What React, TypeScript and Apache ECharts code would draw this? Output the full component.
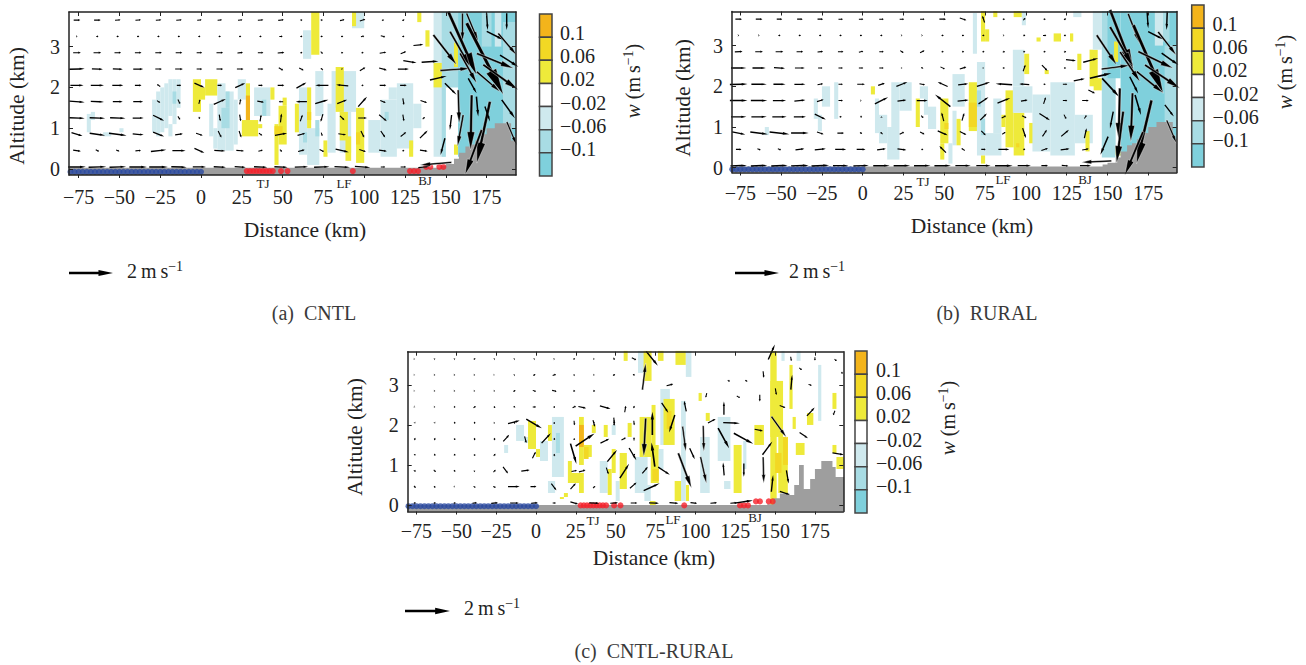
import React, { useEffect, useRef } from "react";
import * as echarts from "echarts";

const FONT = "Liberation Serif";
const INK = "#222222";
const MUTED = "#3a3a3a";

const distanceTicks = [-75, -50, -25, 0, 25, 50, 75, 100, 125, 150, 175];
const altitudeTicks = [0, 1, 2, 3];
const colorLabels = ["0.1", "0.06", "0.02", "\u22120.02", "\u22120.06", "\u22120.1"];
const colorSteps = ["#f3b41b", "#f2d824", "#eeea3a", "#ffffff", "#cfe9ee", "#a8dce4", "#7fd0dc"];
const levelColor: Record<string, string> = { "3": "#f3b41b", "2": "#f2d824", "1": "#eeea3a", "-1": "#cfe9ee", "-2": "#a8dce4", "-3": "#7fd0dc" };
const arrowHeights = [3.65, 3.25, 2.85, 2.45, 2.05, 1.65, 1.25, 0.85, 0.45, 0.05];
const arrowDistances = [-76, -63.5, -51, -38.5, -26, -13.5, -1, 11.5, 24, 36.5, 49, 61.5, 74, 86.5, 99, 111.5, 124, 136.5, 149, 161.5, 174, 186.5];
const blueStations = [-80, -77.5, -75, -72.5, -70, -67.5, -65, -62.5, -60, -57.5, -55, -52.5, -50, -47.5, -45, -42.5, -40, -37.5, -35, -32.5, -30, -27.5, -25, -22.5, -20, -17.5, -15, -12.5, -10, -7.5, -5, -2.5, 0];
const redStations: number[][] = [[28, -0.05], [30, -0.05], [32, -0.05], [34, -0.05], [36, -0.05], [38, -0.05], [40, -0.05], [42, -0.05], [44, -0.05], [49, -0.05], [53, -0.05], [93, -0.05], [128, -0.05], [130.5, -0.05], [133, -0.05], [138, 0.05], [140.5, 0.05], [146, 0.05], [148.5, 0.05]];

// w cells: [x from, x to, z from, z to, colour level]
const cellsA: number[][] = [
  [-70, -67.5, 0.9, 1.35, -1], [-67.5, -65, 1.2, 1.4, -1], [-60, -55, 0.8, 0.9, -1], [-50, -47.5, 0.9, 1, -1],
  [-30, -27.5, 0.9, 1.7, -1], [-27.5, -25, 0.8, 1.9, -1], [-25, -22.5, 0.9, 2, -1], [-22.5, -20, 1, 2.1, -1], [-20, -17.5, 0.8, 1.1, -1], [-20, -17.5, 1.3, 2.2, -1], [-17.5, -15, 1.1, 2.2, -1], [-17.5, -15, 1.6, 1.9, -2], [-15, -12.5, 1.5, 2.2, -1],
  [-5, 0, 1.4, 2.2, 1], [0, 2.5, 1.7, 2, 1], [2.5, 10, 1.8, 2.2, 1],
  [5, 7.5, 0.8, 1.6, -1], [7.5, 10, 0.5, 1, -1], [10, 15, 0.45, 2.1, -1], [15, 20, 0.45, 1.9, -1], [20, 22.5, 0.6, 1.7, -1], [12.5, 17.5, 1, 1.5, -2], [15, 17.5, 1.5, 1.9, -2],
  [22.5, 27.5, 1.7, 2.2, -1], [25, 35, 0.8, 1.2, 1], [27.5, 30, 1.2, 2.1, 1], [27.5, 30, 1.2, 1.8, 3], [35, 37.5, 1, 1.1, 1],
  [32.5, 42.5, 1.3, 2, -1], [37.5, 40, 1.3, 1.7, -2], [42.5, 45, 1.7, 2, 1],
  [45, 47.5, 0.1, 1.1, 1], [47.5, 52.5, 0.6, 1.55, 1], [50, 52.5, 1.55, 1.75, 1], [45, 50, 0.85, 1.05, 2], [57.5, 60, 0.9, 1.6, 1],
  [60, 65, 0.35, 2, -1], [65, 72.5, 0.1, 1, -1], [62.5, 65, 0.65, 0.9, -2], [70, 72.5, 0.8, 1.2, -2], [65, 67.5, 1, 2, 1], [65, 67.5, 1.2, 1.4, 2],
  [62.5, 67.5, 2.7, 3.4, -1], [67.5, 72.5, 2.8, 3.85, 1], [70, 75, 1.3, 2.4, -1], [75, 77.5, 0.3, 0.7, 1], [77.5, 82.5, 0.4, 1.6, -1], [80, 85, 1.5, 2.4, -1],
  [85, 95, 1.4, 2.4, -1], [85, 92, 0.4, 1.4, -1], [82.5, 87.5, 1.4, 2.5, 1], [85, 90, 0.7, 1.4, 1], [88.5, 92, 0.2, 0.8, 1], [95, 100, 0.15, 1.5, 1], [95, 97.5, 0.6, 0.9, 2], [92.5, 100, 3.45, 3.85, -1], [92.5, 95, 3.5, 3.85, 1],
  [102.5, 110, 0.4, 1.2, -1], [110, 120, 0.3, 1.7, -1], [120, 130, 0.5, 2.1, -1], [115, 120, 1.7, 2, -1], [130, 135, 1, 1.6, -1], [112.5, 115, 1.2, 1.4, -2],
  [132.5, 135, 3.6, 3.85, 1], [137.5, 140, 3, 3.4, 1], [127.5, 130, 0.3, 0.7, 1],
  [142.5, 150, 0.3, 3.85, -1], [147.5, 157.5, 2, 3.85, -2], [142.5, 147.5, 2, 2.6, 1], [147.5, 150, 0.3, 2, -2], [155, 157.5, 2.5, 3.1, 1], [155, 157.5, 0.35, 0.6, 1],
  [157.5, 193, 0.3, 3.85, -3], [180, 184, 3, 3.85, -1], [172, 178, 3, 3.85, -2], [185, 193, 1, 3.6, -2],
];
const cellsB: number[][] = [
  [-60, -57.5, 0.8, 1, -1], [-30, -27.5, 1.2, 1.7, -1], [-27.5, -25, 0.9, 1.3, -1], [-25, -20, 1.5, 2, -1], [-17.5, -15, 1.2, 2.1, -1], [5, 7.5, 1.8, 2, 1],
  [7.5, 10, 0.85, 1.7, -1], [10, 15, 0.6, 1.3, -1], [15, 22.5, 0.2, 1, -1], [17.5, 22.5, 1, 2.1, -1], [22.5, 30, 1.4, 2.1, -1], [32.5, 35, 1, 1.7, 1],
  [35, 37.5, 1.7, 2, -1], [37.5, 40, 1.3, 2, -1], [40, 45, 0.95, 1.5, -1], [47.5, 50, 0.2, 0.6, 1], [47.5, 52.5, 0.6, 1.7, 1], [50, 52.5, 0.95, 1.1, 2],
  [52.5, 55, 0.1, 0.6, -1], [55, 57.5, 0.55, 1.4, -1], [57.5, 60, 0.55, 1.2, 1], [55, 62.5, 1.5, 2.3, -1],
  [65, 70, 0.9, 2.1, 1], [65, 70, 1, 1.6, 2], [70, 75, 0.3, 2.6, -1], [70, 72.5, 1.5, 1.9, -2], [72.5, 75, 0.8, 1.2, -2], [67.5, 70, 2.8, 3.8, -1], [72.5, 75, 3.1, 3.85, 1], [75, 77.5, 3.1, 3.4, 1], [72.5, 75, 0.1, 0.3, 1],
  [75, 85, 0.3, 0.85, -1], [80, 85, 0.85, 1.7, -1], [85, 87.5, 1, 1.3, 1], [87.5, 92.5, 0.5, 1.9, 1], [92.5, 99, 0.3, 1.35, 1], [94, 96, 0.5, 0.6, 2], [92, 99, 2, 2.9, -1], [92, 104, 1.35, 2, -1],
  [80, 82.5, 3.7, 3.85, 1], [92.5, 97.5, 3.7, 3.85, 1], [97.5, 100, 3.5, 3.85, -1], [99, 102, 2.3, 2.8, 1], [102, 106.5, 0.6, 1.1, 1], [106.5, 109, 3.1, 3.2, 1], [111.5, 114, 2.3, 2.4, 1], [117, 121.5, 3.1, 3.3, 1], [127, 129, 3.1, 3.3, 1], [129, 134, 3.7, 3.85, -1],
  [104, 115, 0.4, 1.8, -1], [115, 130, 0.3, 2.1, -1], [130, 141, 0.6, 1.3, -1], [131.5, 134, 2.4, 2.8, 1], [136.5, 139, 0.4, 0.9, 1], [139, 144, 2, 2.9, 1], [141.5, 146.5, 1.9, 2.2, 1],
  [141, 146.5, 2.9, 3.85, -1], [146.5, 155, 0.25, 3.85, -2], [150, 158, 2.2, 3.85, -3], [154, 156.5, 2.6, 3.1, 1], [155, 158.5, 0.3, 0.5, 1],
  [158, 192.4, 0.3, 3.85, -3], [179, 184, 3, 3.85, -1], [184, 188, 3.1, 3.85, -2], [185, 192, 1, 3, -2],
];
const cellsC: number[][] = [
  [-20, -17.5, 1.3, 1.5, -1], [-12.5, -7.5, 1.6, 2, -1], [-7.5, -5, 1.55, 1.7, -1], [-5, 0, 1.4, 2.1, 1], [0, 2.5, 1.2, 1.4, 1], [2.5, 7.5, 1.1, 1.6, -1], [7.5, 10, 1.6, 2, 1],
  [10, 17.5, 0.7, 2.2, -1], [12.5, 15, 1.3, 1.8, -2], [7.5, 12, 0.3, 0.6, -1], [15, 17.5, 0.15, 0.2, 1], [17.5, 20, 0.2, 0.3, 1], [20, 22.5, 0.8, 1.1, 1], [20, 30, 0.55, 0.8, 1], [27, 30, 0.3, 0.55, 1],
  [27, 30, 1, 2.2, 1], [27, 30, 1.45, 2, 3], [30, 35, 1.2, 1.5, 1], [30, 33, 1.15, 1.45, 2], [35, 37.5, 1.8, 2, 1], [42.5, 45, 1.7, 2, 1], [47.5, 50, 1.75, 2, -1],
  [40, 45, 0.3, 1.1, -1], [45, 47.5, 0.25, 0.9, 1], [47.5, 50, 0.8, 1.4, 1], [50, 52.5, 0.1, 0.6, -1], [52.5, 57, 0.4, 1.3, 1], [55, 57.5, 3.6, 3.85, 1], [57.5, 60, 1.7, 2.05, 1],
  [62, 70, 0.3, 1.2, -1], [64, 69, 3.3, 3.85, -1], [67.5, 72.5, 3.1, 3.85, 1], [65, 72.5, 1.2, 2.2, 1], [72.5, 75, 1.5, 2.5, 1], [72, 77, 0.55, 1.5, 1], [73, 77, 0.6, 0.9, 2], [78, 84, 1.5, 2.9, -1], [71.5, 75, 0, 0.1, 1], [68, 72, 0.1, 0.5, -1], [77, 80, 0.9, 1.4, -1],
  [76.5, 80, 3.6, 3.85, 1], [87.5, 94, 3.5, 3.85, 1], [94, 97.5, 3.2, 3.85, -1], [80, 87, 1.5, 2.65, 1], [82, 85, 1.9, 2.35, 2],
  [87, 92, 0.1, 0.6, 1], [94, 96, 0.1, 0.5, 1], [91, 94, 0.1, 2.6, -1], [102, 104, 2.6, 2.8, 1], [106.5, 109, 2.1, 2.3, 1], [103, 109, 0.3, 1.7, -1], [114, 122, 1.1, 2.2, -1], [118, 122, 0.4, 0.6, -1],
  [124, 129, 0.3, 1.5, 1], [130, 132, 0.9, 1.6, -1], [137, 143, 1.5, 2, 1], [147, 151, 0, 3.85, 1], [147, 155, 1.7, 3.1, 1], [152, 158, 0.3, 1.7, 1], [155, 158, 1, 1.7, 2], [150, 154, 0.8, 1.3, 2],
  [159, 161, 2.4, 3.5, 1], [163, 168.5, 1.25, 1.55, 1], [170, 174, 2, 2.3, 1], [161, 163, 1.9, 2.2, 1], [154, 156, 3.6, 3.85, -1], [163.5, 166, 3.6, 3.85, -1], [177, 179, 2.1, 3.5, -1], [186, 188.5, 2.4, 2.8, 1], [186, 188.5, 1.3, 1.5, 1], [188.5, 193, 0.9, 1.2, 1],
];

// terrain profile: [distance, height]
const terrainAB: number[][] = [[-82, 0.03], [140, 0.03], [147, 0.08], [150, 0.12], [155, 0.25], [158, 0.4], [162, 0.55], [165, 0.6], [168, 0.7], [172, 0.85], [175, 1], [180, 1.12], [190, 0.7], [194, 0.7]];
const terrainC: number[][] = [[-82, 0], [145, 0.02], [149, 0.17], [153, 0.29], [159, 0.25], [162, 0.5], [165, 1], [168, 0.4], [172, 0.65], [175, 0.9], [179, 1.1], [186, 0.95], [188, 0.7], [194, 0.7]];

// wind on the regular grid, rows from top to bottom, in m/s as drawn
const uA = [
  [.3, .3, .25, .25, .25, .25, .2, .2, .2, .25, .25, .1, .1, .2, .25, .1, .1, 0, 0, 0, 0, 0],
  [.05, .1, .1, .1, .1, .1, .1, .1, .1, .1, .15, .1, .1, .1, .15, .2, .1, 0, 0, 0, 0, 0],
  [.35, .35, .3, .3, .3, .3, .25, .3, .25, .25, .3, .1, .1, .1, .1, .3, .25, 0, 0, 0, 0, 0],
  [.7, .5, .45, .45, .3, .35, .25, .3, .3, .25, .2, .2, -.1, .05, .25, .35, .5, 0, 0, 0, 0, 0],
  [.6, .6, .5, .3, -.15, .2, .45, .2, .45, .2, .3, .45, -.6, -.55, .1, .3, .3, 0, 0, 0, 0, 0],
  [.7, .6, .45, .45, .15, .1, .05, .55, .05, .3, -.2, -.5, .6, .45, .4, .25, .05, .3, 0, 0, 0, 0],
  [.7, .7, .7, .5, .5, .1, .05, .05, .05, .05, .05, .1, -.1, .2, .4, .35, .05, .1, 0, 0, 0, 0],
  [.5, .7, .8, .5, .5, .35, .3, .15, .1, .15, .55, .35, .05, .35, .15, .2, .25, .35, 0, 0, 0, 0],
  [.35, .15, .15, .25, .7, .6, .45, .5, .35, .2, .1, .3, .2, .6, .3, .35, .1, .35, 0, 0, 0, 0],
  [.8, .8, .75, .8, .85, .7, .6, .55, .5, .6, .6, .6, .7, .7, .7, .2, .25, .5, 0, 0, 0, 0],
];
const vA = [
  [0, 0, .02, .02, .02, .02, .02, .02, .02, .02, .03, 0, 0, .05, .08, .03, .05, 0, 0, 0, 0, 0],
  [0, 0, 0, 0, 0, 0, 0, 0, 0, 0, 0, 0, 0, 0, .03, -.05, 0, 0, 0, 0, 0, 0],
  [0, 0, 0, 0, 0, 0, 0, 0, .02, 0, .02, 0, -.1, .02, 0, .05, .1, 0, 0, 0, 0, 0],
  [.02, -.02, -.02, 0, 0, 0, 0, 0, 0, 0, -.12, -.1, .1, -.03, .15, -.1, 0, 0, 0, 0, 0, 0],
  [0, 0, 0, 0, .1, 0, -.2, 0, .2, 0, 0, .25, 0, .05, 0, 0, 0, 0, 0, 0, 0, 0],
  [-.05, -.02, 0, 0, -.1, -.2, .2, .25, .25, -.05, 0, 0, .18, .18, .45, -.1, -.3, -.1, 0, 0, 0, 0],
  [-.02, -.02, -.02, 0, -.25, -.15, -.1, -.3, -.3, .3, .4, .3, -.35, -.2, 0, -.3, -.3, .1, 0, 0, 0, 0],
  [-.15, -.1, -.1, -.05, -.2, .05, -.1, -.3, -.3, -.1, .1, .1, -.15, -.05, -.3, -.3, .2, .35, 0, 0, 0, 0],
  [-.05, -.08, -.05, .02, .08, 0, -.2, -.03, -.03, .05, -.1, .08, -.1, -.14, -.1, -.05, 0, -.05, 0, 0, 0, 0],
  [.01, .02, .02, 0, 0, -.02, 0, -.02, -.02, -.02, -.02, .02, .02, -.03, -.05, 0, 0, .05, 0, 0, 0, 0],
];
// strong wind, placed individually: [distance, height, u, v]
const strongA: number[][] = [
  [160.2, 3.47, 0, -1.29], [166.3, 3.47, .53, -1.29], [175.3, 3.61, .05, -.76], [187.3, 3.61, 0, -.76], [160.2, 3.08, 1.29, -2.88], [158.7, 2.94, .91, -1.59], [174, 2.7, 1.67, -3.26], [180.2, 3.27, .76, -.38], [187.7, 3.06, .83, -.98], [180.2, 2.65, 1.67, -.68], [188.8, 2.65, .83, -.53], [149.5, 2.92, 1.06, -1.36],
  [155.7, 2.44, 1.36, .1], [183.6, 2.25, 1.59, -1.14], [163.8, 2.47, .76, -1.36], [176.1, 2.14, 1.06, -.91], [145.4, 2.23, .76, .18], [153, 1.96, .53, -.53], [166.3, 2.04, .38, -.68], [157.9, 1.53, .05, -1.52], [165.5, 1.14, -.05, -2.5], [173, 0.9, -.6, -2.8], [169.3, 1.53, .08, -.91], [175.5, 1.35, .23, -.68],
  [188.3, 1.47, .6, -.83], [190.4, 0.87, .45, -1.06], [158.9, 0.94, -.26, -1.44], [153, 1.14, -.08, -.68], [148.1, 0.55, -.2, -.76], [166.9, 0.41, -.76, -2.05], [143.8, 0.13, -1.44, -.12], [128, 2.63, .6, -.1], [140.3, 2.63, .76, .05], [133.2, 3.04, .45, .05],
];

const uB = [
  [.3, .3, .25, .25, .25, .2, .2, .2, .2, .2, .3, .3, -.1, .1, .1, .1, .1, 0, 0, 0, 0, 0],
  [.05, .05, .1, .1, .1, .1, .1, .1, .05, .05, .1, .1, .1, .05, .1, .15, .1, 0, 0, 0, 0, 0],
  [.35, .35, .35, .3, .25, .25, .2, .2, .15, .2, .1, .1, .1, .1, .1, .1, .1, 0, 0, 0, 0, 0],
  [.7, .6, .5, .45, .2, .2, .2, .2, .05, .1, .2, .3, .05, .1, .1, .25, .1, 0, 0, 0, 0, 0],
  [.8, .7, .55, .5, .25, .2, .35, .3, .5, .25, -.45, .45, .6, -.75, -.45, .1, .2, 0, 0, 0, 0, 0],
  [.8, .75, .6, .5, .3, .2, .05, .6, .4, .5, -.7, .5, .45, .58, .3, .1, .2, .3, 0, 0, 0, 0],
  [.7, .7, .65, .55, .5, .1, 0, 0, 0, .1, -.1, .1, .3, .2, .2, .48, .1, .1, 0, 0, 0, 0],
  [.6, .8, .9, .8, .3, .3, .1, -.1, .2, .2, .45, .3, .2, .15, .15, .2, .35, .1, 0, 0, 0, 0],
  [.25, .15, .15, .4, .5, .5, .4, .4, .4, .1, -.3, -.15, .2, .5, .1, .3, .4, .3, 0, 0, 0, 0],
  [.75, .75, .75, .8, .8, .7, .7, .75, .75, .75, .75, .7, .65, .8, .6, .3, .3, .5, 0, 0, 0, 0],
];
const vB = [
  [0, 0, 0, 0, 0, 0, 0, 0, 0, 0, 0, -.1, .3, 0, .1, 0, .05, 0, 0, 0, 0, 0],
  [0, 0, 0, 0, 0, 0, 0, 0, 0, 0, 0, 0, 0, 0, -.03, 0, .03, 0, 0, 0, 0, 0],
  [.02, 0, 0, 0, .02, 0, .05, 0, -.1, .1, 0, 0, 0, .05, 0, 0, .05, 0, 0, 0, 0, 0],
  [0, 0, -.03, 0, 0, 0, 0, 0, 0, -.05, -.1, .1, 0, 0, .3, -.26, 0, 0, 0, 0, 0, 0],
  [.03, 0, 0, 0, .05, 0, 0, .1, .2, -.05, .2, .05, .2, .05, .03, 0, 0, 0, 0, 0, 0, 0],
  [0, 0, 0, .05, .1, 0, 0, .3, .05, 0, .55, .05, .3, .23, .05, .3, 0, 0, 0, 0, 0, 0],
  [0, 0, 0, 0, -.25, 0, -.1, .05, 0, -.1, .4, .35, .3, .1, -.1, -.3, -.2, .15, 0, 0, 0, 0],
  [-.12, -.1, -.1, 0, -.1, 0, -.05, .1, .1, -.1, -.2, -.15, -.2, .1, -.45, .3, .3, .45, 0, 0, 0, 0],
  [0, -.05, -.05, .05, .05, 0, 0, .05, -.05, 0, .3, .1, 0, 0, -.02, .1, .05, .05, 0, 0, 0, 0],
  [.02, .03, .03, .02, .03, 0, .02, 0, 0, 0, 0, 0, 0, 0, 0, 0, -.03, 0, 0, 0, 0, 0],
];
const strongB: number[][] = [
  [158.7, 3.14, 1.06, -2.73], [166.2, 3.42, .53, -1.36], [174.6, 3.63, .05, -.76], [186.4, 3.61, -.03, -.83], [158.7, 2.97, 1.06, -1.82], [175, 2.67, 1.36, -3.1], [179.5, 3.25, .68, -.35], [186.6, 3.05, .83, -1.06], [179.5, 2.65, 1.59, -.76], [188.3, 2.67, .76, -.53], [149.5, 2.89, .91, -1.36], [155, 2.47, 1.29, .17],
  [183.6, 2.24, 1.59, -1.06], [163.8, 2.48, .91, -1.36], [176, 2.1, 1.21, -.98], [145.8, 2.26, .98, .23], [151.9, 1.97, .77, -.83], [166.2, 2.03, .38, -.76], [157.2, 1.32, -.05, -2.35], [164.8, 1.24, -.08, -2.2], [172.4, 0.88, -.68, -2.88], [168.7, 1.54, .27, -.91], [187.9, 1.4, .41, -.53], [189.3, 0.88, .45, -1.06],
  [157.6, 0.75, -.3, -2.35], [152.5, 1.17, -.15, -.76], [148, 0.54, -.35, -.83], [166.2, 0.35, -.83, -1.97], [143.3, 0.15, -1.36, -.06], [139.7, 2.64, .68, .18], [127.6, 2.64, .45, -.05], [132.7, 2.16, .5, .1], [140.3, 1.87, .3, -.15],
];

const uC = [
  [.03, .05, .05, .08, .05, .05, .05, .05, .08, .05, .05, .2, 0, 0, 0, 0, 0, 0, 0, 0, 0, 0],
  [.03, .05, .05, .05, .03, .05, .1, .15, .05, .05, .1, .1, 0, 0, 0, 0, 0, 0, 0, 0, 0, 0],
  [.03, .05, .05, .05, .05, .1, .15, .2, .1, .1, 0, 0, 0, 0, 0, 0, 0, 0, 0, 0, 0, 0],
  [.03, .05, .08, .1, .03, .08, .15, .05, .15, 0, 0, .05, 0, 0, 0, 0, 0, 0, 0, 0, 0, 0],
  [.03, .03, .02, .02, .05, 0, 0, .05, .02, .02, 0, .02, 0, 0, 0, 0, 0, 0, 0, 0, 0, 0],
  [.03, .03, .03, .02, .03, 0, 0, 0, .02, 0, 0, 0, 0, 0, 0, 0, 0, 0, 0, 0, 0, 0],
  [.03, .03, .05, .05, .08, 0, 0, .02, 0, 0, 0, .1, 0, 0, 0, 0, 0, 0, 0, 0, 0, 0],
  [.1, .1, .08, .05, .1, 0, 0, 0, .25, 0, 0, 0, 0, 0, 0, 0, 0, 0, 0, 0, 0, 0],
  [.08, .08, .03, .1, .12, 0, 0, 0, 0, .1, 0, 0, 0, 0, 0, 0, 0, 0, 0, 0, 0, 0],
  [.1, .1, .1, .2, .3, .4, .3, .15, .35, .45, .35, .3, .45, .4, .3, .3, .3, 0, 0, 0, 0, 0],
];
const vC = [
  [0, .03, .03, .05, .03, .03, .03, .02, .05, 0, -.1, -.1, 0, 0, 0, 0, 0, 0, 0, 0, 0, 0],
  [0, 0, 0, 0, 0, .03, .05, .05, .05, 0, .05, -.03, 0, 0, 0, 0, 0, 0, 0, 0, 0, 0],
  [0, 0, 0, 0, 0, .05, -.05, -.05, 0, 0, 0, 0, 0, 0, 0, 0, 0, 0, 0, 0, 0, 0],
  [-.02, 0, 0, .08, .08, -.05, 0, .08, .08, 0, 0, .1, 0, 0, 0, 0, 0, 0, 0, 0, 0, 0],
  [-.05, -.05, -.1, -.1, 0, -.1, 0, .08, -.2, -.05, -.25, -.2, 0, 0, 0, 0, 0, 0, 0, 0, 0, 0],
  [.1, .1, .08, .1, .1, 0, 0, .1, .08, 0, 0, .15, 0, 0, 0, 0, 0, 0, 0, 0, 0, 0],
  [-.08, -.1, -.08, .08, .1, 0, 0, .1, 0, 0, 0, .1, 0, 0, 0, 0, 0, 0, 0, 0, 0, 0],
  [-.05, -.1, -.05, .05, .1, 0, 0, 0, .05, 0, 0, 0, 0, 0, 0, 0, 0, 0, 0, 0, 0, 0],
  [-.1, -.05, -.03, -.05, -.05, 0, 0, 0, 0, .1, 0, 0, 0, 0, 0, 0, 0, 0, 0, 0, 0, 0],
  [.02, .02, .03, .03, .03, 0, .02, 0, -.1, -.02, .02, 0, -.02, -.03, -.03, .02, .02, 0, 0, 0, 0, 0],
];
const strongC: number[][] = [
  [-13.9, 2.07, .53, .14], [-1.2, 2.03, .71, -.42], [6.4, 1.67, .42, .45], [-18.7, 1.67, .27, .3], [-1.2, 1.25, .15, .3], [-19.1, 0.87, .23, -.3], [-6.6, 0.86, .38, .05], [-13.9, 0.46, .53, 0], [-1.6, 0.46, .27, 0], [-6.6, 1.63, .08, -.3], [11.2, 0.45, .23, -.3],
  [30.8, 1.63, .86, .58], [23.5, 1.28, .27, -.92], [29, 0.85, .3, .08], [23.3, 0.47, .24, .27], [36.3, 2.04, .08, -.3], [43.2, 1.6, .4, .2], [47.8, 1.23, .44, .53], [44.8, 0.85, .1, -.3], [55.5, 0.85, .42, .65], [60.7, 1.27, .33, -.56], [55, 1.65, .2, .1], [49, 2.1, .03, -.3], [61, 0.49, .3, .26],
  [67.8, 3.21, .15, 1.21], [72.8, 3.66, .53, -.65], [68.2, 1.69, -.09, -1.74], [73.5, 1.26, -.15, 1.09], [73, 2.04, 0, 1.06], [72.6, 0.45, .73, .33], [68.4, 0.87, .25, .3], [80.3, 0.85, .53, -.35], [80.9, 2.43, .3, -.45], [43.4, 2.44, .48, -.14], [29, 2.44, .35, -.08], [56, 2.4, .05, .3],
  [93.4, 0.86, .6, -1.59], [93, 1.65, .15, -1.14], [93.6, 2.47, -.1, .48], [85.3, 2.03, -.26, -.8], [84, 3, .3, .08], [98, 1.28, .23, -.5], [105.1, 1.66, .03, -1.17], [105.1, 0.87, .27, -1.21], [110.3, 2.1, .35, .18], [117.7, 1.67, .5, -.91], [117.9, 2.42, 0, .6], [122.7, 2.05, .76, -.03], [130.2, 1.66, .88, -.48], [117.7, 0.9, -.05, .58], [130.4, 0.87, 0, -.6],
  [145.2, 1.42, .45, .6], [142.7, 0.87, .03, -1.2], [148.2, 0.54, .08, .76], [152.4, 1.95, .68, -.94], [147.8, 3.82, .3, .68], [160.3, 3.07, .06, .68], [172.4, 2.33, .35, .38], [168, 1.74, .38, -.26], [157.8, 0.7, .1, -.6], [156.1, 0.3, .45, -.15], [189.6, 1.28, .52, -.08], [130.4, 0.08, .83, .12], [139.8, 1.87, .38, -.08], [140.4, 2.67, 0, -.3], [154.7, 2.46, .26, -.1],
  [142.7, 3.26, .03, -.3], [150.5, 2.83, .05, -.3], [106.8, 2.74, -.05, -.2], [127, 2.7, .15, -.08], [121, 3.1, .1, -.06], [132, 3.1, .1, -.06], [172, 3, .15, -.05], [166, 3.4, .12, -.1], [187, 2.3, -.08, -.2], [160, 3.65, .03, -.2], [175, 3.65, 0, -.15], [188, 3.62, .1, -.08], [192, 3.3, .03, -.1],
];

const PX_PER_MS = 22;

function arrowPoints(cx: number, cy: number, dx: number, dy: number): number[][] {
  const len = Math.hypot(dx, dy) || 1;
  const ux = dx / len;
  const uy = dy / len;
  const nx = -uy;
  const ny = ux;
  const headLen = Math.max(len * 0.33, 1.5);
  const headHalf = Math.max(len * 0.07, 1.1);
  const shaftHalf = Math.min(0.45 + len * 0.016, 1.8);
  const tail = [cx - dx / 2, cy - dy / 2];
  const tip = [cx + dx / 2, cy + dy / 2];
  const neck = [tip[0] - ux * headLen, tip[1] - uy * headLen];
  return [
    [tail[0] + nx * shaftHalf, tail[1] + ny * shaftHalf],
    [neck[0] + nx * shaftHalf, neck[1] + ny * shaftHalf],
    [neck[0] + nx * headHalf, neck[1] + ny * headHalf],
    tip,
    [neck[0] - nx * headHalf, neck[1] - ny * headHalf],
    [neck[0] - nx * shaftHalf, neck[1] - ny * shaftHalf],
    [tail[0] - nx * shaftHalf, tail[1] - ny * shaftHalf],
  ];
}

function windData(u: number[][], v: number[][], strong: number[][]): number[][] {
  const out: number[][] = [];
  u.forEach((row, r) => row.forEach((val, c) => {
    if (val !== 0 || v[r][c] !== 0) out.push([arrowDistances[c], arrowHeights[r], val, v[r][c]]);
  }));
  return out.concat(strong);
}

type Panel = {
  grid: { left: number; top: number; right: number; bottom: number };
  xRange: number[]; yRange: number[]; labelMargin: number;
  cells: number[][]; terrain: number[][]; wind: number[][]; blueZ: number; red: number[][];
  bar: { left: number; top: number; right: number; bottom: number; labelX: number };
};

const panels: Panel[] = [
  { grid: { left: 69, top: 12, right: 516, bottom: 175 }, xRange: [-80.9, 193], yRange: [-0.147, 3.848], labelMargin: 12, cells: cellsA, terrain: terrainAB, wind: windData(uA, vA, strongA), blueZ: -0.07, red: redStations, bar: { left: 539.5, top: 14, right: 552, bottom: 176, labelX: 560 } },
  { grid: { left: 732, top: 11.5, right: 1176.7, bottom: 172.5 }, xRange: [-80.1, 192.4], yRange: [-0.118, 3.838], labelMargin: 10, cells: cellsB, terrain: terrainAB, wind: windData(uB, vB, strongB), blueZ: -0.04, red: [], bar: { left: 1191.7, top: 5, right: 1204, bottom: 167, labelX: 1212.5 } },
  { grid: { left: 407.7, top: 351.7, right: 843.3, bottom: 511.5 }, xRange: [-80.5, 192.8], yRange: [-0.1625, 3.83], labelMargin: 9, cells: cellsC, terrain: terrainC, wind: windData(uC, vC, strongC), blueZ: -0.03, red: redStations.map((d) => [d[0], d[1] + 0.04]), bar: { left: 855, top: 351, right: 867, bottom: 513, labelX: 876 } },
];

function buildOption() {
  const grid: any[] = [];
  const xAxis: any[] = [];
  const yAxis: any[] = [];
  const series: any[] = [];
  const font = { fontFamily: FONT };

  panels.forEach((p, i) => {
    const gi = grid.length;
    grid.push({ left: p.grid.left, top: p.grid.top, width: p.grid.right - p.grid.left, height: p.grid.bottom - p.grid.top, containLabel: false });
    const base = { gridIndex: gi, type: "value", splitLine: { show: false }, axisLine: { show: true, onZero: false, lineStyle: { color: INK, width: 1.5 } }, z: 6 };
    const xi = xAxis.length;
    xAxis.push({
      ...base, min: p.xRange[0], max: p.xRange[1], position: "bottom",
      axisTick: { show: true, inside: false, length: 3, customValues: distanceTicks, lineStyle: { color: INK, width: 1 } },
      axisLabel: { show: true, customValues: distanceTicks, margin: p.labelMargin, fontSize: 20, color: INK, ...font, formatter: (v: number) => String(v).replace("-", "\u2212") },
    });
    xAxis.push({
      ...base, min: p.xRange[0], max: p.xRange[1], position: "top",
      axisTick: { show: true, inside: true, length: 4, customValues: distanceTicks, lineStyle: { color: INK, width: 1 } },
      axisLabel: { show: false },
    });
    const yi = yAxis.length;
    yAxis.push({
      ...base, min: p.yRange[0], max: p.yRange[1], position: "left",
      axisTick: { show: true, inside: true, length: 4, customValues: altitudeTicks, lineStyle: { color: INK, width: 1 } },
      axisLabel: { show: true, customValues: altitudeTicks, margin: 9, fontSize: 20, color: INK, ...font },
    });
    yAxis.push({
      ...base, min: p.yRange[0], max: p.yRange[1], position: "right",
      axisTick: { show: true, inside: true, length: 4, customValues: altitudeTicks, lineStyle: { color: INK, width: 1 } },
      axisLabel: { show: false },
    });

    series.push({
      type: "custom", name: "w" + i, xAxisIndex: xi, yAxisIndex: yi, z: 1, clip: false, silent: true,
      encode: { x: [0, 1], y: [2, 3] }, data: p.cells,
      renderItem: (_: any, api: any) => {
        const a = api.coord([api.value(0), api.value(3)]);
        const b = api.coord([api.value(1), api.value(2)]);
        return { type: "rect", shape: { x: a[0], y: a[1], width: b[0] - a[0], height: b[1] - a[1] }, style: { fill: levelColor[String(api.value(4))] } };
      },
    });
    series.push({
      type: "line", name: "terrain" + i, xAxisIndex: xi, yAxisIndex: yi, z: 2, step: "end", symbol: "none", silent: true,
      lineStyle: { width: 0, color: "#9e9e9e" }, areaStyle: { color: "#9e9e9e", opacity: 1, origin: "start" }, data: p.terrain,
    });
    series.push({
      type: "scatter", name: "urban" + i, xAxisIndex: xi, yAxisIndex: yi, z: 3, clip: false, symbolSize: 6, silent: true,
      itemStyle: { color: "#2a4aa0" }, data: blueStations.map((x) => [x, p.blueZ]),
    });
    if (p.red.length) {
      series.push({
        type: "scatter", name: "stations" + i, xAxisIndex: xi, yAxisIndex: yi, z: 3, clip: false, symbolSize: 6, silent: true,
        itemStyle: { color: "#f5202a" }, data: p.red,
      });
    }
    series.push({
      type: "custom", name: "wind" + i, xAxisIndex: xi, yAxisIndex: yi, z: 4, clip: false, silent: true,
      encode: { x: 0, y: 1 }, data: p.wind,
      renderItem: (_: any, api: any) => {
        const c = api.coord([api.value(0), api.value(1)]);
        const dx = api.value(2) * PX_PER_MS;
        const dy = -api.value(3) * PX_PER_MS;
        const big = Math.hypot(dx, dy) > 25;
        return { type: "polygon", shape: { points: arrowPoints(c[0], c[1], dx, dy) }, style: { fill: "#000000", stroke: big ? "#ffffff" : "none", lineWidth: big ? 0.4 : 0 } };
      },
    });

    // colour bar
    const bi = grid.length;
    grid.push({ left: p.bar.left, top: p.bar.top, width: p.bar.right - p.bar.left, height: p.bar.bottom - p.bar.top });
    const bx = xAxis.length;
    xAxis.push({ gridIndex: bi, type: "value", min: 0, max: 1, show: false });
    const by = yAxis.length;
    yAxis.push({ gridIndex: bi, type: "value", min: 0, max: 7, inverse: true, show: false });
    series.push({
      type: "custom", name: "bar" + i, xAxisIndex: bx, yAxisIndex: by, clip: false, silent: true, z: 5,
      encode: { y: 0 }, data: colorSteps.map((_, k) => [k]),
      renderItem: (_: any, api: any) => {
        const k = api.value(0);
        const a = api.coord([0, k]);
        const b = api.coord([1, k + 1]);
        const children: any[] = [{ type: "rect", shape: { x: a[0], y: a[1], width: b[0] - a[0], height: b[1] - a[1] }, style: { fill: colorSteps[k], stroke: "#444444", lineWidth: 1.5 } }];
        if (k < colorLabels.length) {
          children.push({ type: "text", x: p.bar.labelX, y: b[1] - 4, style: { text: colorLabels[k], fontSize: 20, fontFamily: FONT, fill: INK, textAlign: "left", textVerticalAlign: "middle" } });
        }
        return { type: "group", children };
      },
    });
  });

  const text = (t: string, x: number, y: number, fontSize: number, extra: any = {}, rot = 0) => ({
    type: "text", x, y, rotation: rot, z: 20, silent: true,
    style: { text: t, fontSize, fontFamily: FONT, fill: INK, textAlign: "center", textVerticalAlign: "middle", ...extra },
  });
  const rich = { s: { fontSize: 14, fontFamily: FONT, fill: INK, verticalAlign: "top", lineHeight: 24 }, i: { fontSize: 21, fontFamily: FONT, fontStyle: "italic", fill: INK, lineHeight: 24 }, t: { fontSize: 20, fontFamily: FONT, fill: INK, lineHeight: 24 } };
  const wLabel = "{i|w} {t|(m\u2009s}{s|\u22121}{t|)}";
  const speedLabel = "{t|2\u2009m\u2009s}{s|\u22121}";
  const legendArrow = (x0: number, x1: number, y: number) => ({
    type: "polygon", z: 20, silent: true, shape: { points: arrowPoints((x0 + x1) / 2, y, x1 - x0, 0) }, style: { fill: "#000000" },
  });
  const up = Math.PI / 2;

  const graphic: any[] = [
    text("Altitude (km)", 17, 106, 21.5, {}, up), text("Altitude (km)", 683, 98, 21.5, {}, up), text("Altitude (km)", 355, 437, 21.5, {}, up),
    text("Distance (km)", 305, 230, 21.5), text("Distance (km)", 972, 226, 21.5), text("Distance (km)", 654, 558, 21.5),
    text("TJ", 263, 183, 13), text("LF", 344, 183, 13), text("BJ", 425, 180, 13),
    text("TJ", 923, 181, 13), text("LF", 1003, 179, 13), text("BJ", 1085, 179, 13),
    text("TJ", 593, 520, 13), text("LF", 673, 519, 13), text("BJ", 755, 517, 13),
    text("(a)  CNTL", 314, 313, 20, { fill: MUTED }), text("(b)  RURAL", 987, 313, 20, { fill: MUTED }), text("(c)  CNTL-RURAL", 654, 651, 20, { fill: MUTED }),
    text(wLabel, 633, 81, 20, { rich }, up), text(wLabel, 1285, 72, 20, { rich }, up), text(wLabel, 948, 418, 20, { rich }, up),
    legendArrow(69, 113, 273), legendArrow(735, 779, 273), legendArrow(405, 450, 611),
    text(speedLabel, 155, 271, 20, { rich }), text(speedLabel, 817, 271, 20, { rich }), text(speedLabel, 492, 608, 20, { rich }),
  ];

  return { animation: false, backgroundColor: "#ffffff", grid, xAxis, yAxis, series, graphic };
}

export default function App() {
  const ref = useRef<HTMLDivElement>(null);
  useEffect(() => {
    if (!ref.current) return;
    const chart = echarts.init(ref.current, undefined, { renderer: "svg" });
    chart.setOption(buildOption());
    return () => chart.dispose();
  }, []);
  return <div ref={ref} style={{ position: "absolute", left: 0, top: 0, width: 1306, height: 665 }} />;
}
